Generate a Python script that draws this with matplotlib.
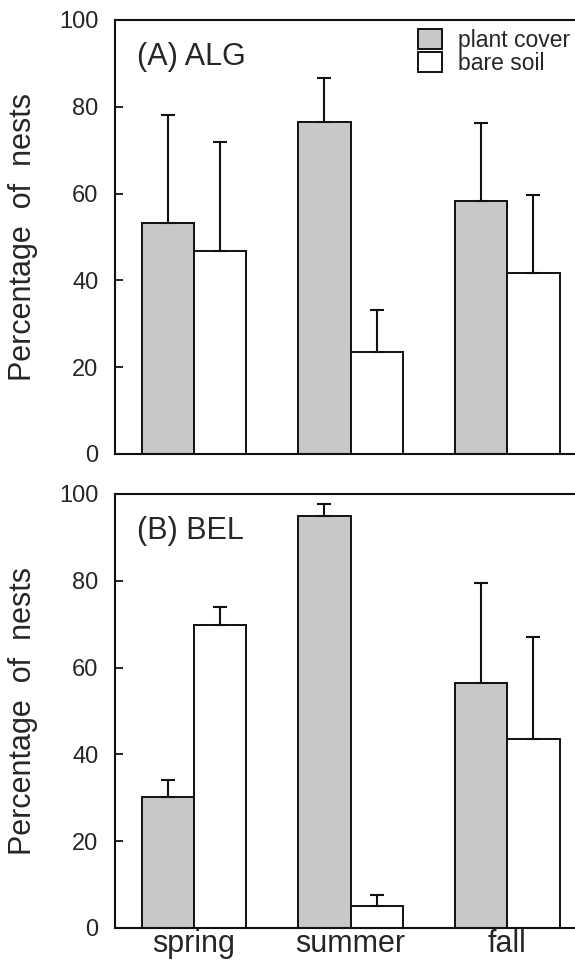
import matplotlib
matplotlib.use("Agg")
import matplotlib.pyplot as plt
import numpy as np

plt.rcParams['font.family'] = ['Liberation Sans', 'DejaVu Sans']

seasons = ["spring", "summer", "fall"]
series_names = ["plant cover", "bare soil"]

# (A) ALG
alg_plant = [53.2, 76.6, 58.3]
alg_bare = [46.8, 23.4, 41.7]
alg_plant_err = [25.0, 10.0, 18.0]
alg_bare_err = [25.0, 9.8, 17.9]

# (B) BEL
bel_plant = [30.1, 94.9, 56.4]
bel_bare = [69.9, 5.1, 43.6]
bel_plant_err = [4.0, 2.7, 23.2]
bel_bare_err = [4.1, 2.5, 23.5]

y_ticks = [0, 20, 40, 60, 80, 100]

TEXT = "#262626"
GRAY = "#c8c8c8"
W = 0.335

fig = plt.figure(figsize=(5.75, 9.66), dpi=100)
ax_top = fig.add_axes([115 / 575, 512 / 966, 460 / 575, 434 / 966])
ax_bot = fig.add_axes([115 / 575, 38 / 966, 460 / 575, 434 / 966])


def panel(ax, plant, bare, perr, berr, title, show_x, show_legend):
    x = np.arange(len(seasons))
    ekw = dict(elinewidth=1.5, capthick=1.5, ecolor="#111111")
    b1 = ax.bar(x - W / 2, plant, W, color=GRAY, edgecolor="#111111",
                linewidth=1.4, yerr=[np.zeros(3), perr], capsize=5,
                error_kw=ekw, label=series_names[0], zorder=2)
    b2 = ax.bar(x + W / 2, bare, W, color="white", edgecolor="#111111",
                linewidth=1.4, yerr=[np.zeros(3), berr], capsize=5,
                error_kw=ekw, label=series_names[1], zorder=2)
    ax.set_xlim(-0.505, 2.434)
    ax.set_ylim(0, 100)
    ax.set_yticks(y_ticks)
    ax.tick_params(axis="y", direction="in", length=6, width=1.2,
                   pad=12, labelsize=17, labelcolor=TEXT)
    ax.tick_params(axis="x", length=0, pad=1, labelsize=22, labelcolor=TEXT)
    ax.set_xticks(x)
    if show_x:
        ax.set_xticklabels(seasons)
    else:
        ax.set_xticklabels([])
    for s in ["left", "top", "bottom"]:
        ax.spines[s].set_linewidth(1.5)
        ax.spines[s].set_color("#111111")
    ax.spines["right"].set_visible(False)
    ax.set_ylabel("Percentage  of  nests", fontsize=22, color=TEXT)
    ax.yaxis.set_label_coords(-0.167, 0.5)
    ax.text(0.048, 0.897, title, transform=ax.transAxes, fontsize=22,
            color=TEXT, ha="left", va="baseline")
    if show_legend:
        ax.legend(handles=[b1, b2], loc="upper left",
                  bbox_to_anchor=(0.659, 0.98), frameon=False,
                  fontsize=16.5, handlelength=1.05, handleheight=0.95,
                  handletextpad=0.7, labelspacing=0.0, borderpad=0,
                  borderaxespad=0, labelcolor=TEXT)


panel(ax_top, alg_plant, alg_bare, alg_plant_err, alg_bare_err,
      "(A) ALG", False, True)
panel(ax_bot, bel_plant, bel_bare, bel_plant_err, bel_bare_err,
      "(B) BEL", True, False)

fig.savefig("out.png", dpi=100)
